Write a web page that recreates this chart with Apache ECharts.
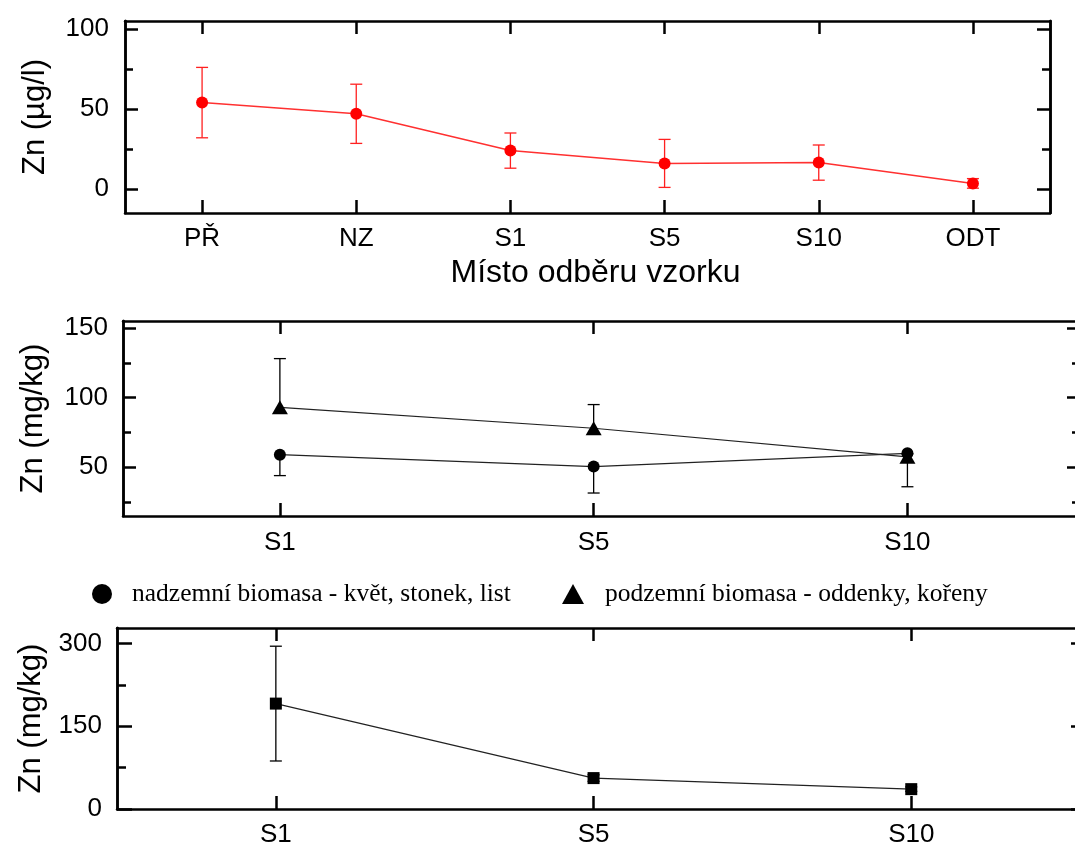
<!DOCTYPE html>
<html>
<head>
<meta charset="utf-8">
<script src="https://cdn.jsdelivr.net/npm/echarts@6/dist/echarts.min.js"></script>
<style>
  html, body { margin: 0; padding: 0; background: #fff; }
  #chart { width: 1075px; height: 845px; }
</style>
</head>
<body>
<div id="chart"></div>
<script>
// --- Zn in water along the sampling sites (µg/l), mean and SD ---
const waterSites = ['PŘ', 'NZ', 'S1', 'S5', 'S10', 'ODT'];
const waterZn = [54, 47, 24, 16, 16.5, 3.5];
const waterZnSd = [22, 18.5, 11, 15, 11, 3];
const waterTicksMajor = [0, 50, 100];
const waterTicksMinor = [25, 75];

// --- Zn in reed biomass (mg/kg) ---
const plantSites = ['S1', 'S5', 'S10'];
const aboveName = 'nadzemní biomasa - květ, stonek, list';
const belowName = 'podzemní biomasa - oddenky, kořeny';
const aboveZn = [59, 50.5, 60];
const aboveZnSd = [15, 19, 24];
const belowZn = [93, 78, 57.5];
const belowZnSd = [35, 17, 2];
const plantTicksMajor = [50, 100, 150];
const plantTicksMinor = [25, 75, 125];

// --- Zn in sediment (mg/kg) ---
const sedimentSites = ['S1', 'S5', 'S10'];
const sedimentZn = [191, 56, 36];
const sedimentZnSd = [104, 6, 4];
const sedimentTicksMajor = [0, 150, 300];
const sedimentTicksMinor = [75, 225];

const SANS = 'Liberation Sans';
const SERIF = 'Liberation Serif';
const INK = '#000';

const chart = echarts.init(document.getElementById('chart'), null, { renderer: 'canvas' });

const frameLine = { show: true, onZero: false, lineStyle: { color: INK, width: 2.5 } };

// two x axes per panel: bottom one carries the labels, top one only ticks
function makeXAxes(grid, cats, max, label, name) {
  const idx = cats.map((_, i) => i);
  const base = {
    gridIndex: grid, type: 'value', min: -0.5, max: max,
    splitLine: { show: false }, axisLine: frameLine
  };
  const bottom = Object.assign({}, base, {
    position: 'bottom',
    axisTick: { show: true, inside: true, length: 13, customValues: idx, lineStyle: { color: INK, width: 2.5 } },
    axisLabel: {
      show: true, customValues: idx, margin: label.margin,
      fontFamily: SANS, fontSize: 26, color: INK,
      formatter: v => cats[Math.round(v)]
    }
  });
  if (name) {
    Object.assign(bottom, {
      name: name, nameLocation: 'middle', nameGap: label.nameGap,
      nameTextStyle: { fontFamily: SANS, fontSize: 32, color: INK, padding: [0, 0, 0, 16] }
    });
  }
  const top = Object.assign({}, base, {
    position: 'top',
    axisTick: { show: true, inside: true, length: 13, customValues: idx, lineStyle: { color: INK, width: 2.5 } },
    axisLabel: { show: false }
  });
  return [bottom, top];
}

// four y axes per panel: left/right, each with long major and short minor ticks
function makeYAxes(grid, min, max, major, minor, opt) {
  const base = {
    gridIndex: grid, type: 'value', min: min, max: max,
    splitLine: { show: false }, axisLine: frameLine
  };
  const tick = (vals, len) => ({ show: true, inside: true, length: len, customValues: vals, lineStyle: { color: INK, width: 2.5 } });
  const leftMajor = Object.assign({}, base, {
    position: 'left',
    axisTick: tick(major, opt.majorLen),
    axisLabel: { show: true, customValues: major, margin: opt.labelMargin, fontFamily: SANS, fontSize: 26, color: INK },
    name: opt.name, nameLocation: 'middle', nameGap: opt.nameGap,
    nameTextStyle: { fontFamily: SANS, fontSize: 31, color: INK }
  });
  const leftMinor = Object.assign({}, base, { position: 'left', axisTick: tick(minor, opt.minorLen), axisLabel: { show: false } });
  const rightMajor = Object.assign({}, base, { position: 'right', axisTick: tick(major, opt.majorLen), axisLabel: { show: false } });
  const rightMinor = Object.assign({}, base, { position: 'right', axisTick: tick(minor, opt.minorLen), axisLabel: { show: false } });
  return [leftMajor, leftMinor, rightMajor, rightMinor];
}

// vertical error bars drawn through the panel's own axes
function errorBars(xi, yi, values, lowArr, highArr, capLow, capHigh, color, z) {
  return {
    type: 'custom', xAxisIndex: xi, yAxisIndex: yi, z: z, silent: true,
    data: values.map((v, i) => [i, lowArr[i], highArr[i]]),
    renderItem: function (params, api) {
      const lo = api.coord([api.value(0), api.value(1)]);
      const hi = api.coord([api.value(0), api.value(2)]);
      const half = 6;
      const style = { stroke: color, lineWidth: 1.3 };
      const children = [
        { type: 'line', shape: { x1: lo[0], y1: lo[1], x2: hi[0], y2: hi[1] }, style: style }
      ];
      if (capLow) children.push({ type: 'line', shape: { x1: lo[0] - half, y1: lo[1], x2: lo[0] + half, y2: lo[1] }, style: style });
      if (capHigh) children.push({ type: 'line', shape: { x1: hi[0] - half, y1: hi[1], x2: hi[0] + half, y2: hi[1] }, style: style });
      return { type: 'group', children: children };
    }
  };
}

const xAxis = []
  .concat(makeXAxes(0, waterSites, waterSites.length - 0.5, { margin: 13, nameGap: 44 }, 'Místo odběru vzorku'))
  .concat(makeXAxes(1, plantSites, 2.55, { margin: 14 }))
  .concat(makeXAxes(2, sedimentSites, 2.55, { margin: 13 }));

const yAxis = []
  .concat(makeYAxes(0, -15, 105, waterTicksMajor, waterTicksMinor, { majorLen: 13, minorLen: 8, labelMargin: 16, name: 'Zn (µg/l)', nameGap: 74 }))
  .concat(makeYAxes(1, 15, 155, plantTicksMajor, plantTicksMinor, { majorLen: 13, minorLen: 8, labelMargin: 15, name: 'Zn (mg/kg)', nameGap: 74 }))
  .concat(makeYAxes(2, 0, 328, sedimentTicksMajor, sedimentTicksMinor, { majorLen: 15, minorLen: 9, labelMargin: 15, name: 'Zn (mg/kg)', nameGap: 70 }));

const legendText = { fontFamily: SERIF, fontSize: 25.5, color: INK };

const option = {
  animation: false,
  backgroundColor: '#fff',
  grid: [
    { left: 125, top: 21, width: 925, height: 192, outerBoundsMode: 'none' },
    { left: 123, top: 321, width: 957, height: 195, outerBoundsMode: 'none' },
    { left: 117, top: 628, width: 969, height: 181, outerBoundsMode: 'none' }
  ],
  legend: [
    { left: 87, top: 576, selectedMode: false, itemWidth: 20, itemHeight: 20,
      textStyle: Object.assign({ padding: [0, 0, 0, 15] }, legendText),
      data: [{ name: aboveName, icon: 'circle' }] },
    { left: 557, top: 576, selectedMode: false, itemWidth: 22, itemHeight: 20,
      textStyle: Object.assign({ padding: [0, 0, 0, 16] }, legendText),
      data: [{ name: belowName, icon: 'triangle' }] }
  ],
  xAxis: xAxis,
  yAxis: yAxis,
  series: [
    // water
    errorBars(0, 0, waterZn, waterZn.map((v, i) => v - waterZnSd[i]), waterZn.map((v, i) => v + waterZnSd[i]), true, true, '#ff2020', 2),
    {
      type: 'line', name: 'Zn voda', xAxisIndex: 0, yAxisIndex: 0, z: 3,
      data: waterZn.map((v, i) => [i, v]),
      symbol: 'circle', symbolSize: 12,
      itemStyle: { color: '#ff0000' },
      lineStyle: { color: '#ff3030', width: 1.5 }
    },
    // biomass
    errorBars(2, 4, aboveZn, aboveZn.map((v, i) => v - aboveZnSd[i]), aboveZn, true, false, INK, 2),
    errorBars(2, 4, belowZn, belowZn, belowZn.map((v, i) => v + belowZnSd[i]), false, true, INK, 2),
    {
      type: 'line', name: belowName, xAxisIndex: 2, yAxisIndex: 4, z: 3,
      data: belowZn.map((v, i) => [i, v]),
      symbol: 'triangle', symbolSize: [16, 14],
      itemStyle: { color: INK },
      lineStyle: { color: '#222', width: 1.2 }
    },
    {
      type: 'line', name: aboveName, xAxisIndex: 2, yAxisIndex: 4, z: 4,
      data: aboveZn.map((v, i) => [i, v]),
      symbol: 'circle', symbolSize: 12,
      itemStyle: { color: INK },
      lineStyle: { color: '#222', width: 1.2 }
    },
    // sediment
    errorBars(4, 8, sedimentZn, sedimentZn.map((v, i) => v - sedimentZnSd[i]), sedimentZn.map((v, i) => v + sedimentZnSd[i]), true, true, INK, 2),
    {
      type: 'line', name: 'Zn sediment', xAxisIndex: 4, yAxisIndex: 8, z: 3,
      data: sedimentZn.map((v, i) => [i, v]),
      symbol: 'rect', symbolSize: 12,
      itemStyle: { color: INK },
      lineStyle: { color: '#222', width: 1.2 }
    }
  ]
};

chart.setOption(option);
</script>
</body>
</html>
